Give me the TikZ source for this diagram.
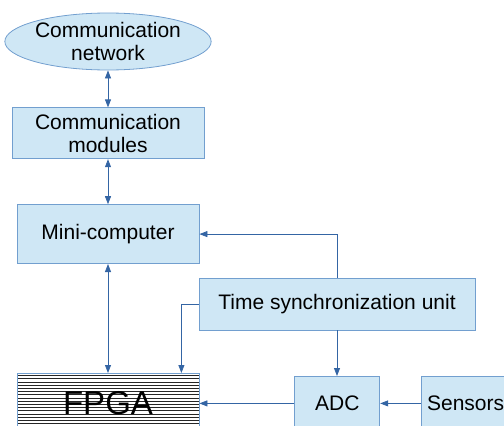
\documentclass[tikz,border=0pt]{standalone}
\usepackage{fontspec}
\setmainfont{Liberation Sans}
\usepackage{tikz}
\usetikzlibrary{arrows.meta, positioning, shapes}
\usepackage{xcolor}
\definecolor{boxfill}{HTML}{CFE7F5}
\definecolor{boxline}{HTML}{729FCF}
\definecolor{arrowblue}{HTML}{3465A4}

\begin{document}
\begin{tikzpicture}[
        x=1pt, y=-1pt,
        font=\fontsize{21}{23}\selectfont,
        box/.style={rectangle, draw=boxline, fill=boxfill, line width=0.8pt, inner sep=0pt, align=center},
        chip/.style={box, fill=white, font=\fontsize{33}{36}\selectfont,
            path picture={\foreach \k in {1,...,20}
                \draw[black!85, line width=0.5pt] ([yshift=-\k*3.2pt+1.2pt]path picture bounding box.north west) -- ([yshift=-\k*3.2pt+1.2pt]path picture bounding box.north east);}},
        link/.style={draw=arrowblue, line width=0.8pt, -{Triangle[length=8pt, width=6pt]}},
        twoway/.style={link, {Triangle[length=8pt, width=6pt]}-{Triangle[length=8pt, width=6pt]}}
    ]
        \useasboundingbox (0,0) rectangle (504,426);
        \clip (0,0) rectangle (504,426);

        \node[box, ellipse, minimum width=188pt, minimum height=57pt] (net) at (108,41.5) {Communication\\network};
        \node[box, minimum width=192pt, minimum height=51pt, below=37pt of net] (comm) {Communication\\modules};
        \node[box, minimum width=182pt, minimum height=59pt, below=45pt of comm] (mini) {Mini-computer};
        \node[chip, minimum width=182pt, minimum height=60pt, below=109pt of mini] (fpga) {FPGA};
        \node[box, minimum width=276pt, minimum height=52pt] (sync) at (337,304) {Time synchronization unit};
        \node[box, minimum width=85pt, minimum height=54pt, right=95pt of fpga] (adc) {ADC};
        \node[box, minimum width=88pt, minimum height=54pt, right=41pt of adc] (sensors) {Sensors};

        \draw[twoway] (net) -- (comm);
        \draw[twoway] (comm) -- (mini);
        \draw[twoway] (mini) -- (fpga);
        \draw[link] (sync.north) |- (mini.east);
        \draw[link] (sync.west) -| ([xshift=-18pt]fpga.north east);
        \draw[link] (sync.south) -- (sync.south |- adc.north);
        \draw[link] (adc) -- (fpga);
        \draw[link] (sensors) -- (adc);
    \end{tikzpicture}
\end{document}
